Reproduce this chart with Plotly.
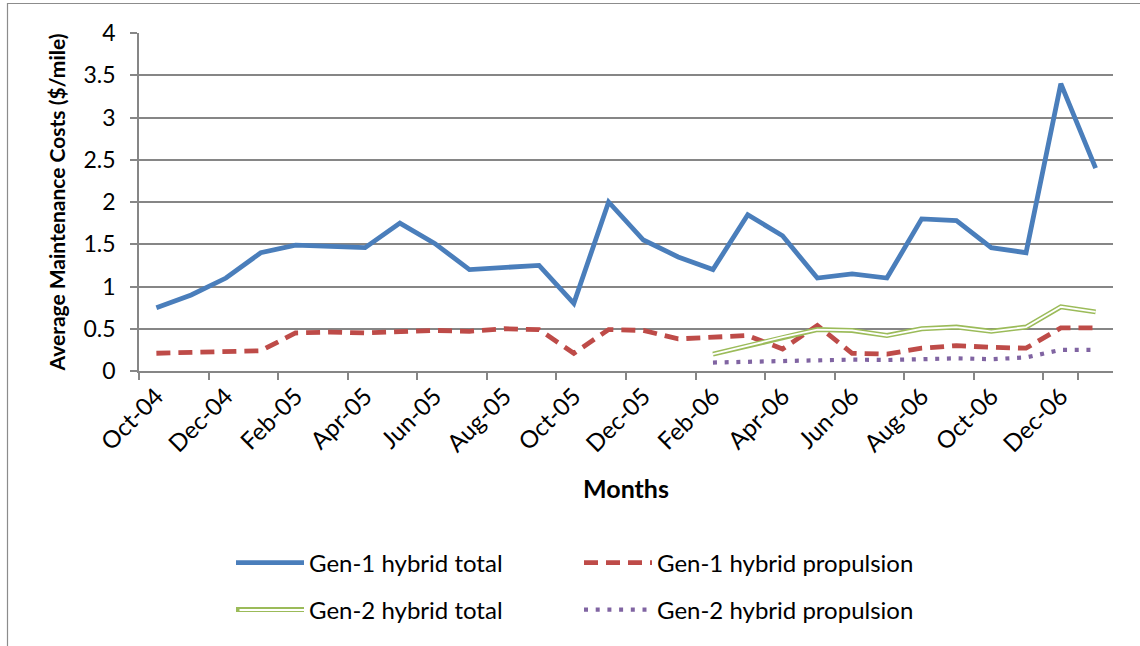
import plotly.graph_objects as go

months = ["Oct-04", "Nov-04", "Dec-04", "Jan-05", "Feb-05", "Mar-05", "Apr-05",
          "May-05", "Jun-05", "Jul-05", "Aug-05", "Sep-05", "Oct-05", "Nov-05",
          "Dec-05", "Jan-06", "Feb-06", "Mar-06", "Apr-06", "May-06", "Jun-06",
          "Jul-06", "Aug-06", "Sep-06", "Oct-06", "Nov-06", "Dec-06", "Jan-07"]

gen1_total = [0.75, 0.90, 1.10, 1.40, 1.49, 1.47, 1.46, 1.75, 1.51, 1.20, 1.22, 1.25,
              0.80, 2.00, 1.55, 1.35, 1.20, 1.85, 1.60, 1.10, 1.15, 1.10, 1.80, 1.78,
              1.46, 1.40, 3.40, 2.40]
gen1_prop = [0.21, 0.22, 0.24, 0.24, 0.45, 0.46, 0.45, 0.47, 0.48, 0.47, 0.50, 0.49,
             0.21, 0.49, 0.48, 0.38, 0.40, 0.42, 0.26, 0.54, 0.21, 0.20, 0.27, 0.30,
             0.28, 0.27, 0.51, 0.51]
gen2_months = months[16:]
gen2_total = [0.20, 0.30, 0.40, 0.49, 0.48, 0.42, 0.50, 0.52, 0.47, 0.52, 0.76, 0.70]
gen2_prop = [0.10, 0.11, 0.12, 0.13, 0.135, 0.13, 0.14, 0.15, 0.14, 0.16, 0.25, 0.25]

y_ticks = [0, 0.5, 1, 1.5, 2, 2.5, 3, 3.5, 4]
y_tick_text = ["0", "0.5", "1", "1.5", "2", "2.5", "3", "3.5", "4"]

BLUE = "#4A7EBB"
RED = "#BE4B48"
GREEN = "#9BBB59"
PURPLE = "#8064A2"
GRID = "#868686"
FONT = "Lato, 'Open Sans', sans-serif"

W, H = 1140, 646
ML, MR, MT, MB = 139, 27, 33, 275
PW, PH = W - ML - MR, H - MT - MB

fig = go.Figure()
fig.add_trace(go.Scatter(x=months, y=gen1_total, mode="lines", name="Gen-1 hybrid total",
                         line=dict(color=BLUE, width=4.8), legend="legend"))
fig.add_trace(go.Scatter(x=months, y=gen1_prop, mode="lines", name="Gen-1 hybrid propulsion",
                         line=dict(color=RED, width=4.8, dash="14px,8px"), legend="legend"))
fig.add_trace(go.Scatter(x=gen2_months, y=gen2_total, mode="lines", name="Gen-2 hybrid total",
                         line=dict(color=GREEN, width=5), legend="legend2"))
fig.add_trace(go.Scatter(x=gen2_months, y=gen2_total, mode="lines", showlegend=False,
                         hoverinfo="skip", line=dict(color="white", width=1.8)))
fig.add_trace(go.Scatter(x=gen2_months, y=gen2_prop, mode="lines", name="Gen-2 hybrid propulsion",
                         line=dict(color=PURPLE, width=4.2, dash="4px,7.7px"), legend="legend2"))


def px_to_paper_x(px):
    return (px - ML) / PW


def px_to_paper_y(py):
    return (H - MB - py) / PH


legend_common = dict(orientation="h", xanchor="left", yanchor="middle",
                     font=dict(family=FONT, size=24, color="black"),
                     entrywidth=265, entrywidthmode="pixels", itemwidth=68,
                     bgcolor="rgba(0,0,0,0)", tracegroupgap=0)

fig.update_layout(
    width=W, height=H,
    margin=dict(l=ML, r=MR, t=MT, b=MB, autoexpand=False),
    paper_bgcolor="white", plot_bgcolor="white",
    font=dict(family=FONT, size=22, color="black"),
    showlegend=True,
    legend=dict(x=px_to_paper_x(231), y=px_to_paper_y(563), **legend_common),
    legend2=dict(x=px_to_paper_x(231), y=px_to_paper_y(610), **legend_common),
    xaxis=dict(
        type="category", range=[-0.5, len(months) - 0.5],
        tickmode="array", tickvals=months[::2], ticktext=months[::2],
        tickson="boundaries", ticks="outside", ticklen=7, tickcolor=GRID, tickwidth=1.5,
        tickangle=-45, showgrid=False, showline=True, linecolor=GRID, linewidth=1.5,
        tickfont=dict(family=FONT, size=24, color="black"),
        title=dict(text="<b>Months</b>", font=dict(family=FONT, size=25, color="black"),
                   standoff=24),
        automargin=False,
    ),
    yaxis=dict(
        range=[0, 4], tickmode="array", tickvals=y_ticks, ticktext=y_tick_text,
        ticks="outside", ticklen=7, tickcolor=GRID, tickwidth=1.5,
        showgrid=True, gridcolor=GRID, gridwidth=1.5, ticklabelstandoff=10,
        showline=True, linecolor=GRID, linewidth=1.5, zeroline=False,
        tickfont=dict(family=FONT, size=23, color="black"),
        title=dict(text="<b>Average Maintenance Costs ($/mile)</b>",
                   font=dict(family=FONT, size=21, color="black"), standoff=12),
        automargin=False,
    ),
    shapes=[
        dict(type="rect", xref="paper", yref="paper",
             x0=px_to_paper_x(7.5), x1=px_to_paper_x(1160),
             y0=px_to_paper_y(660), y1=px_to_paper_y(3.5),
             line=dict(color="#8C8C8C", width=1.2), fillcolor="rgba(0,0,0,0)", layer="below"),
    ],
    annotations=[
        # inner white stroke over the legend sample of "Gen-2 hybrid total" (double line style)
        dict(xref="paper", yref="paper", x=px_to_paper_x(304), y=px_to_paper_y(610),
             ax=-66, ay=0, text="", showarrow=True, arrowhead=0, arrowwidth=1.8,
             arrowcolor="white", standoff=0, startstandoff=0),
    ],
)

post_js = """
document.body.style.margin='0';
document.body.style.padding='0';
"""

fig.write_html("out.html", config={"displayModeBar": False}, post_script=post_js)
